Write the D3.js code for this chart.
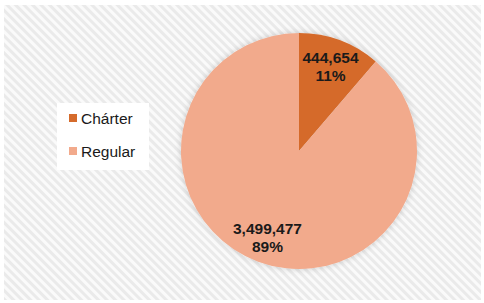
<!DOCTYPE html>
<html>
<head>
<meta charset="utf-8">
<script src="https://cdn.jsdelivr.net/npm/d3@7"></script>
<style>
  body { margin: 0; background: #fff; }
  text { font-family: "Liberation Sans", Arial, sans-serif; }
</style>
</head>
<body>
<div id="chart"></div>
<script>
const categories = ["Chárter", "Regular"];
const values = [444654, 3499477];
const colors = ["#d56b2c", "#f2aa8c"];

const width = 484;
const height = 303;

const svg = d3.select("#chart").append("svg")
  .attr("width", width)
  .attr("height", height);

const defs = svg.append("defs");

// diagonal hatch background
const pat = defs.append("pattern")
  .attr("id", "hatch")
  .attr("patternUnits", "userSpaceOnUse")
  .attr("width", 6)
  .attr("height", 6)
  .attr("patternTransform", "rotate(-45)");
pat.append("rect").attr("width", 6).attr("height", 6).attr("fill", "#fafafa");
pat.append("rect").attr("width", 3).attr("height", 6).attr("fill", "#eaeaea");

const shadow = defs.append("filter")
  .attr("id", "shadow")
  .attr("x", "-20%").attr("y", "-20%")
  .attr("width", "140%").attr("height", "140%");
shadow.append("feDropShadow")
  .attr("dx", 0).attr("dy", 0)
  .attr("stdDeviation", 3)
  .attr("flood-color", "#000")
  .attr("flood-opacity", 0.18);

svg.append("rect")
  .attr("x", 4).attr("y", 5)
  .attr("width", 477).attr("height", 295)
  .attr("fill", "url(#hatch)");

// pie
const cx = 299, cy = 151, radius = 118;
const total = d3.sum(values);
const pie = d3.pie().sort(null)(values);
const arc = d3.arc().innerRadius(0).outerRadius(radius);
const labelArc = d3.arc().innerRadius(radius * 0.77).outerRadius(radius * 0.77);

const g = svg.append("g").attr("transform", `translate(${cx},${cy})`);

g.append("g").attr("filter", "url(#shadow)")
  .selectAll("path")
  .data(pie)
  .enter()
  .append("path")
  .attr("d", arc)
  .attr("fill", (d, i) => colors[i]);

const fmt = d3.format(",");
const labels = g.selectAll(".lbl")
  .data(pie)
  .enter()
  .append("text")
  .attr("class", "lbl")
  .attr("transform", d => `translate(${labelArc.centroid(d)})`)
  .attr("text-anchor", "middle")
  .style("font-size", "15.5px")
  .style("font-weight", "bold")
  .style("fill", "#1a1a1a");
labels.append("tspan")
  .attr("x", 0).attr("dy", "-0.15em")
  .text(d => fmt(d.data));
labels.append("tspan")
  .attr("x", 0).attr("dy", "1.15em")
  .text(d => Math.round(d.data / total * 100) + "%");

// legend
const legend = svg.append("g");
legend.append("rect")
  .attr("x", 57).attr("y", 103)
  .attr("width", 92).attr("height", 67)
  .attr("fill", "#fff");

const items = legend.selectAll(".item")
  .data(categories)
  .enter()
  .append("g")
  .attr("transform", (d, i) => `translate(69,${114 + i * 33})`);
items.append("rect")
  .attr("width", 8).attr("height", 8)
  .attr("fill", (d, i) => colors[i]);
items.append("text")
  .attr("x", 12).attr("y", 9.5)
  .style("font-size", "15.5px")
  .style("fill", "#1a1a1a")
  .text(d => d);
</script>
</body>
</html>
